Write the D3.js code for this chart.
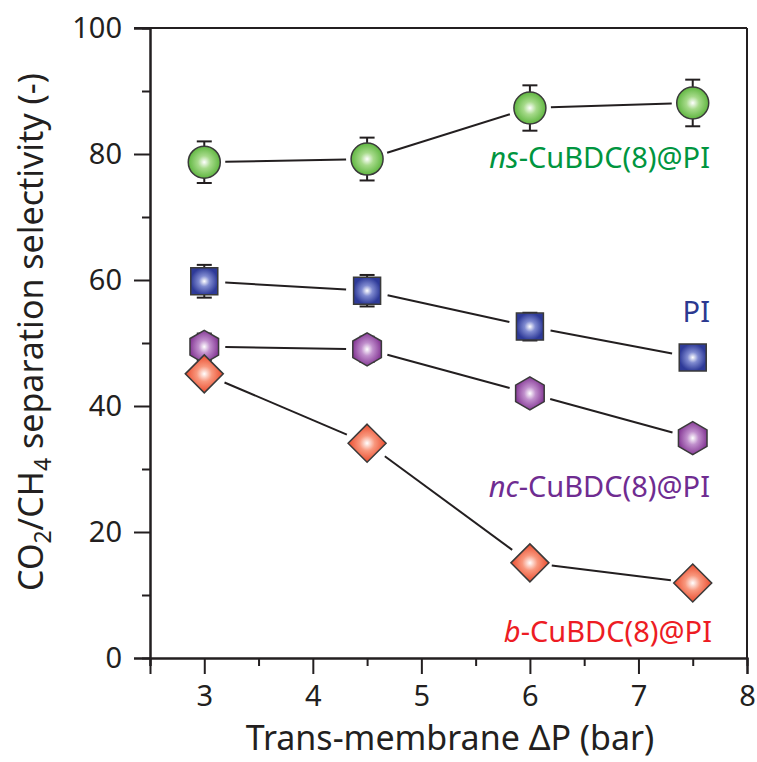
<!DOCTYPE html>
<html>
<head>
<meta charset="utf-8">
<script src="https://cdn.jsdelivr.net/npm/d3@7"></script>
<style>
  body { margin: 0; background: #fff; }
  text { font-family: "Noto Sans", "Open Sans", sans-serif; }
</style>
</head>
<body>
<div id="chart"></div>
<script>
var width = 757, height = 762;

// pressure (bar)
var pressures = [3, 4.5, 6, 7.5];

// selectivity values and error bar half-widths
var nsValues = [78.7, 79.2, 87.3, 88.1];
var nsErrors = [3.3, 3.4, 3.6, 3.7];
var piValues = [59.8, 58.3, 52.6, 47.7];
var piErrors = [2.6, 2.5, 2.2, 1.0];
var ncValues = [49.4, 49.0, 42.0, 34.9];
var ncErrors = [2.1, 2.0, 0, 0];
var bValues  = [45.1, 34.1, 15.1, 11.9];
var bErrors  = [0, 0, 0, 0];

var xTicks = [3, 4, 5, 6, 7, 8];
var yTicks = [0, 20, 40, 60, 80, 100];

var series = [
  { name: "pi", values: piValues, errors: piErrors, shape: "square",  mid: "#7f8ad0", edge: "#2e3a98", gap: 21 },
  { name: "nc", values: ncValues, errors: ncErrors, shape: "hexagon", mid: "#c08fcc", edge: "#873b97", gap: 21 },
  { name: "b",  values: bValues,  errors: bErrors,  shape: "diamond", mid: "#f8977d", edge: "#ea4a2c", gap: 22 },
  { name: "ns", values: nsValues, errors: nsErrors, shape: "circle",  mid: "#a6da8a", edge: "#5fb640", gap: 21 }
];

var margin = { left: 150, right: 10, top: 28, bottom: 104 };

var x = d3.scaleLinear()
    .domain([2.5, 8])
    .range([margin.left, width - margin.right]);

var y = d3.scaleLinear()
    .domain([0, 100])
    .range([height - margin.bottom, margin.top]);

var svg = d3.select("#chart")
    .append("svg")
    .attr("width", width)
    .attr("height", height);

var defs = svg.append("defs");
series.forEach(function(s) {
  var g = defs.append("radialGradient")
      .attr("id", "grad_" + s.name)
      .attr("cx", "50%").attr("cy", "50%").attr("r", "50%");
  g.append("stop").attr("offset", "0%").attr("stop-color", "#ffffff");
  g.append("stop").attr("offset", "40%").attr("stop-color", s.mid);
  g.append("stop").attr("offset", "100%").attr("stop-color", s.edge);
});

var axisColor = "#231f20";

// frame (top and right)
svg.append("line")
    .attr("x1", margin.left - 16).attr("x2", width - margin.right)
    .attr("y1", y(100)).attr("y2", y(100))
    .attr("stroke", axisColor).attr("stroke-width", 2);
svg.append("line")
    .attr("x1", width - margin.right).attr("x2", width - margin.right)
    .attr("y1", y(100)).attr("y2", y(0))
    .attr("stroke", axisColor).attr("stroke-width", 2);

// x axis: major + minor ticks
var xAxis = d3.axisBottom(x).tickValues(xTicks).tickSize(16).tickPadding(11).tickFormat(d3.format("d"));
var xMinor = d3.axisBottom(x).tickValues([2.5, 3.5, 4.5, 5.5, 6.5, 7.5]).tickSize(8).tickFormat("");

svg.append("g")
    .attr("class", "x axis")
    .attr("transform", "translate(0," + y(0) + ")")
    .call(xAxis);
svg.append("g")
    .attr("class", "x minor")
    .attr("transform", "translate(0," + y(0) + ")")
    .call(xMinor);

var yAxis = d3.axisLeft(y).tickValues(yTicks).tickSize(16).tickPadding(12);
var yMinor = d3.axisLeft(y).tickValues([10, 30, 50, 70, 90]).tickSize(8).tickFormat("");

svg.append("g")
    .attr("class", "y axis")
    .attr("transform", "translate(" + margin.left + ",0)")
    .call(yAxis);
svg.append("g")
    .attr("class", "y minor")
    .attr("transform", "translate(" + margin.left + ",0)")
    .call(yMinor);

svg.selectAll(".axis path, .minor path").attr("stroke", axisColor).attr("stroke-width", 2);
svg.selectAll(".axis line, .minor line").attr("stroke", axisColor).attr("stroke-width", 2);
svg.selectAll(".axis text")
    .attr("fill", axisColor)
    .style("font-size", "29px");

// axis titles
svg.append("text")
    .attr("x", 450)
    .attr("y", 750)
    .attr("text-anchor", "middle")
    .attr("fill", axisColor)
    .style("font-size", "34px")
    .text("Trans-membrane \u0394P (bar)");

var yt = svg.append("text")
    .attr("transform", "translate(43,332) rotate(-90)")
    .attr("text-anchor", "middle")
    .attr("fill", axisColor)
    .style("font-size", "34px");
yt.append("tspan").text("CO");
yt.append("tspan").attr("dy", 8).style("font-size", "23px").text("2");
yt.append("tspan").attr("dy", -8).text("/CH");
yt.append("tspan").attr("dy", 8).style("font-size", "23px").text("4");
yt.append("tspan").attr("dy", -8).text(" separation selectivity (-)");

// connecting segments, shortened near markers
series.forEach(function(s) {
  var pts = pressures.map(function(p, i) { return [x(p), y(s.values[i])]; });
  for (var i = 0; i < pts.length - 1; i++) {
    var a = pts[i], b = pts[i + 1];
    var dx = b[0] - a[0], dy = b[1] - a[1];
    var len = Math.sqrt(dx * dx + dy * dy);
    var ux = dx / len, uy = dy / len;
    svg.append("line")
        .attr("x1", a[0] + ux * s.gap).attr("y1", a[1] + uy * s.gap)
        .attr("x2", b[0] - ux * s.gap).attr("y2", b[1] - uy * s.gap)
        .attr("stroke", axisColor).attr("stroke-width", 2);
  }
});

function shapePath(shape) {
  if (shape === "circle") return d3.symbol().type(d3.symbolCircle).size(Math.PI * 16 * 16)();
  if (shape === "square") return "M-13.5,-13.5H13.5V13.5H-13.5Z";
  if (shape === "diamond") return "M0,-19L19,0L0,19L-19,0Z";
  // pointy-top hexagon
  var r = 16.5, pts = [];
  for (var k = 0; k < 6; k++) {
    var ang = Math.PI / 3 * k - Math.PI / 2;
    pts.push([r * Math.cos(ang), r * Math.sin(ang)]);
  }
  return "M" + pts.map(function(p) { return p.join(","); }).join("L") + "Z";
}

series.forEach(function(s) {
  var data = pressures.map(function(p, i) { return { p: p, v: s.values[i], e: s.errors[i] }; });
  var g = svg.append("g").attr("class", "series-" + s.name);

  var eb = g.selectAll(".err")
      .data(data.filter(function(d) { return d.e > 0; }))
      .enter().append("g").attr("class", "err");
  eb.append("line")
      .attr("x1", function(d) { return x(d.p); })
      .attr("x2", function(d) { return x(d.p); })
      .attr("y1", function(d) { return y(d.v + d.e); })
      .attr("y2", function(d) { return y(d.v - d.e); })
      .attr("stroke", axisColor).attr("stroke-width", 2);
  [1, -1].forEach(function(sign) {
    eb.append("line")
        .attr("x1", function(d) { return x(d.p) - 7.5; })
        .attr("x2", function(d) { return x(d.p) + 7.5; })
        .attr("y1", function(d) { return y(d.v + sign * d.e); })
        .attr("y2", function(d) { return y(d.v + sign * d.e); })
        .attr("stroke", axisColor).attr("stroke-width", 2);
  });

  g.selectAll(".marker")
      .data(data)
      .enter().append("path")
      .attr("class", "marker")
      .attr("d", shapePath(s.shape))
      .attr("transform", function(d) { return "translate(" + x(d.p) + "," + y(d.v) + ")"; })
      .attr("fill", "url(#grad_" + s.name + ")")
      .attr("stroke", "#3a3a3a")
      .attr("stroke-width", 1.5);
});

// series labels
var labels = [
  { pre: "ns", rest: "-CuBDC(8)@PI", color: "#00953f", x: 710, y: 168 },
  { pre: "",   rest: "PI",            color: "#2b3990", x: 710, y: 322 },
  { pre: "nc", rest: "-CuBDC(8)@PI", color: "#6f2c91", x: 710, y: 497 },
  { pre: "b",  rest: "-CuBDC(8)@PI", color: "#ed1c24", x: 712, y: 642 }
];

labels.forEach(function(l) {
  var t = svg.append("text")
      .attr("x", l.x).attr("y", l.y)
      .attr("text-anchor", "end")
      .attr("fill", l.color)
      .style("font-size", "29px");
  if (l.pre) t.append("tspan").style("font-style", "italic").text(l.pre);
  t.append("tspan").text(l.rest);
});
</script>
</body>
</html>
